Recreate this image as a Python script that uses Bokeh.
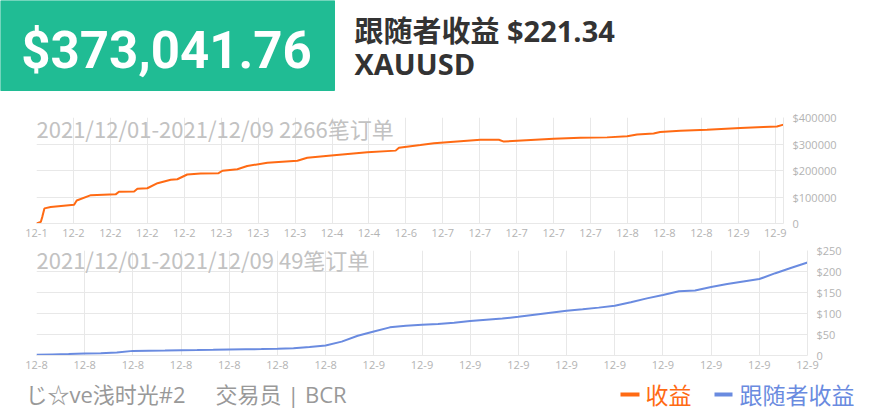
from bokeh.plotting import figure
from bokeh.layouts import column, row
from bokeh.models import Range1d, FixedTicker, Label
from bokeh.embed import file_html
from bokeh.resources import INLINE

# ---------------- data ----------------
total_profit_text = "$373,041.76"
follower_title = "跟随者收益 $221.34"
symbol = "XAUUSD"
top_title = "2021/12/01-2021/12/09 2266笔订单"
bottom_title = "2021/12/01-2021/12/09 49笔订单"
footer_name = "じ☆ve浅时光#2"
footer_trader = "交易员 | BCR"
legend_profit = "收益"
legend_follow = "跟随者收益"

top_n_orders = 2266
top_idx = [0, 13, 18, 24, 43, 114, 122, 165, 240, 250, 296, 306, 336, 367, 407,
           427, 457, 498, 552, 564, 609, 639, 700, 791, 821, 902, 1003, 1089, 1099,
           1164, 1205, 1225, 1346, 1402, 1417, 1457, 1568, 1649, 1730, 1791, 1821,
           1871, 1891, 1952, 2033, 2134, 2204, 2245, 2265]
top_vals = [0, 6000, 27000, 57000, 62000, 71000, 87000, 107000, 110000, 120000,
            121000, 131000, 133000, 152000, 165000, 167000, 185000, 189000, 190000,
            199000, 205000, 217000, 229000, 237000, 248000, 258000, 269000, 275000,
            286000, 296000, 303000, 305000, 316000, 316000, 309000, 312000, 320000,
            324000, 325000, 329000, 336000, 340000, 345000, 350000, 354000, 360000,
            364000, 366000, 373041.76]
top_tick_step = 112
top_x_labels = ["12-1", "12-2", "12-2", "12-2", "12-2", "12-3", "12-3", "12-3",
                "12-4", "12-4", "12-6", "12-7", "12-7", "12-7", "12-7", "12-7",
                "12-8", "12-8", "12-8", "12-9", "12-9"]
top_y_ticks = [0, 100000, 200000, 300000, 400000]
top_y_labels = ["0", "$100000", "$200000", "$300000", "$400000"]

bottom_vals = [1.5, 2.5, 3.5, 5, 5.5, 7, 11, 11.5, 12, 12.7, 13, 13.5, 14.3, 14.8,
               15.3, 16, 17, 20, 24, 33, 47, 57, 67, 71, 73, 75, 78, 82, 85, 88, 92,
               97, 102, 106.5, 110, 114, 118.5, 127, 136, 144, 153, 155, 163, 170,
               176, 182, 196, 209, 221.34]
bottom_tick_step = 3
bottom_x_labels = ["12-8"] * 7 + ["12-9"] * 10
bottom_y_ticks = [0, 50, 100, 150, 200, 250]
bottom_y_labels = ["0", "$50", "$100", "$150", "$200", "$250"]

# ---------------- styles ----------------
W = 872
GREEN = "#20bc94"
ORANGE = "#ff6a13"
BLUE = "#6a8be0"
GRID = "#e8e8e8"
TICK = "#b3b3b3"
LATIN = "'Open Sans', 'Noto Sans CJK SC'"
CJK = "'Noto Sans CJK SC', 'Open Sans'"


def bare(h):
    f = figure(width=W, height=h, output_backend="svg", toolbar_location=None,
               x_range=Range1d(0, W), y_range=Range1d(0, h),
               x_axis_type=None, y_axis_type=None, min_border=0,
               min_border_left=0, min_border_right=0, min_border_top=0, min_border_bottom=0)
    f.grid.visible = False
    f.outline_line_color = None
    f.background_fill_color = "white"
    return f


# ---------------- header ----------------
HH = 108
header = bare(HH)
header.quad(left=0, right=334, top=HH, bottom=HH - 90, color=GREEN)
header.add_layout(Label(x=166, y=HH - 50, text=total_profit_text, text_align="center",
                        text_baseline="alphabetic", text_color="white",
                        text_font="Roboto", text_font_style="bold", text_font_size="51px"))
header.add_layout(Label(x=354, y=HH - 30, text=follower_title, text_align="left",
                        text_baseline="alphabetic", text_color="#333333",
                        text_font=LATIN, text_font_style="bold", text_font_size="29px"))
header.add_layout(Label(x=354, y=HH - 63, text=symbol, text_align="left",
                        text_baseline="alphabetic", text_color="#333333",
                        text_font=LATIN, text_font_style="bold", text_font_size="29px"))


def chart(h, mb, n, ymax, yticks, ylabels, xstep, xlabels, title, title_dy):
    f = figure(width=W, height=h, output_backend="svg", toolbar_location=None,
               x_range=Range1d(0, n - 1), y_range=Range1d(0, ymax),
               y_axis_location="right", min_border_left=mb[0], min_border_right=mb[1],
               min_border_top=mb[2], min_border_bottom=mb[3])
    f.outline_line_color = None
    f.background_fill_color = "white"
    xt = [i * xstep for i in range(len(xlabels))]
    f.xaxis.ticker = FixedTicker(ticks=xt)
    f.xaxis.major_label_overrides = {t: l for t, l in zip(xt, xlabels)}
    f.yaxis.ticker = FixedTicker(ticks=yticks)
    f.yaxis.major_label_overrides = {t: l for t, l in zip(yticks, ylabels)}
    for ax in (f.xaxis[0], f.yaxis[0]):
        ax.axis_line_color = GRID
        ax.major_tick_line_color = None
        ax.minor_tick_line_color = None
        ax.major_tick_out = 0
        ax.major_tick_in = 0
        ax.major_label_text_color = TICK
        ax.major_label_text_font = LATIN
        ax.major_label_text_font_size = "11px"
    f.xaxis.major_label_standoff = 5
    f.yaxis.major_label_standoff = 9
    f.xgrid.grid_line_color = GRID
    f.ygrid.grid_line_color = GRID
    f.add_layout(Label(x=0, y=ymax, y_offset=title_dy, text=title, text_align="left",
                       text_baseline="top", text_color="#c2c2c2", text_font=CJK,
                       text_font_size="22px"))
    return f


top = chart(134, (36, 89, 9, 19), top_n_orders, 400000, top_y_ticks, top_y_labels,
            top_tick_step, top_x_labels, top_title, 6)
top.line(top_idx, top_vals, line_color=ORANGE, line_width=2)

bottom = chart(134, (36, 65, 8, 21), len(bottom_vals), 250, bottom_y_ticks, bottom_y_labels,
               bottom_tick_step, bottom_x_labels, bottom_title, 8)
bottom.line(list(range(len(bottom_vals))), bottom_vals, line_color=BLUE, line_width=2)

# ---------------- footer ----------------
FH = 35
footer = bare(FH)
footer.add_layout(Label(x=25, y=FH - 17, text=footer_name, text_align="left",
                        text_baseline="middle", text_color="#999999",
                        text_font=LATIN, text_font_size="22px"))
footer.add_layout(Label(x=215, y=FH - 17, text=footer_trader, text_align="left",
                        text_baseline="middle", text_color="#999999",
                        text_font=LATIN, text_font_size="22px"))
footer.segment(x0=[620], y0=[FH - 18], x1=[639], y1=[FH - 18], line_color=ORANGE, line_width=4)
footer.add_layout(Label(x=645, y=FH - 17, text=legend_profit, text_align="left",
                        text_baseline="middle", text_color=ORANGE,
                        text_font=CJK, text_font_size="23px"))
footer.segment(x0=[714], y0=[FH - 18], x1=[732], y1=[FH - 18], line_color=BLUE, line_width=4)
footer.add_layout(Label(x=739, y=FH - 17, text=legend_follow, text_align="left",
                        text_baseline="middle", text_color=BLUE,
                        text_font=CJK, text_font_size="23px"))

p = column(row(header), row(top), row(bottom), row(footer), spacing=0)
open("out.html", "w").write(file_html(p, INLINE))
